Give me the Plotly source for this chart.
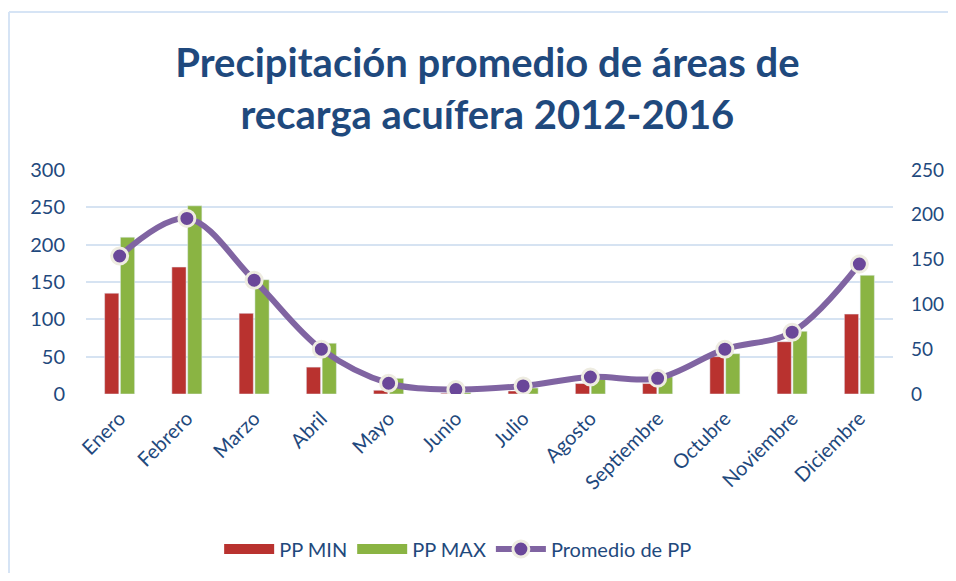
import plotly.graph_objects as go

meses = ['Enero', 'Febrero', 'Marzo', 'Abril', 'Mayo', 'Junio', 'Julio',
         'Agosto', 'Septiembre', 'Octubre', 'Noviembre', 'Diciembre']
pp_min = [135, 170, 108, 36, 5, 1, 4, 14, 14, 50, 70, 107]
pp_max = [210, 252, 153, 68, 21, 2, 8, 20, 23, 54, 84, 159]
promedio = [154, 196, 127, 50, 12, 5, 9, 19, 17.5, 50, 69, 145]

AZUL = '#1F497D'
FUENTE = 'Lato'
ROJO = '#B9322F'
VERDE = '#8AB443'

fig = go.Figure()

fig.add_trace(go.Bar(
    x=meses, y=pp_min, name='PP MIN', showlegend=False,
    marker=dict(color=ROJO),
))
fig.add_trace(go.Bar(
    x=meses, y=pp_max, name='PP MAX', showlegend=False,
    marker=dict(color=VERDE),
))
fig.add_trace(go.Scatter(
    x=meses, y=promedio, name='Promedio de PP', yaxis='y2',
    mode='lines+markers', legendrank=3,
    line=dict(color='#8064A2', width=6, shape='spline', smoothing=1.0),
    marker=dict(size=16, color='#6A4799',
                line=dict(color='#EEECE1', width=3)),
))

# legend-only entries so the bar swatches look like wide blocks
for nombre, color, rank in [('PP MIN', ROJO, 1), ('PP MAX', VERDE, 2)]:
    fig.add_trace(go.Scatter(
        x=[None], y=[None], name=nombre, mode='lines', legendrank=rank,
        line=dict(color=color, width=14),
    ))

# the page body adds an 8px margin on every side, so keep the figure
# small enough that no scrollbar shows up
fig.update_layout(
    width=940, height=565,
    paper_bgcolor='white', plot_bgcolor='white',
    font=dict(family=FUENTE, color=AZUL, size=20),
    title=dict(
        text='<b>Precipitación promedio de áreas de<br>recarga acuífera 2012-2016</b>',
        x=0.51, xanchor='center', y=0.878, yanchor='top',
        font=dict(size=40, color=AZUL, family=FUENTE),
    ),
    margin=dict(l=78, r=55, t=162, b=179),
    barmode='group', bargap=0.53, bargroupgap=0.1,
    showlegend=True,
    legend=dict(
        orientation='h', x=0.165, xanchor='left',
        yref='container', y=0.0425, yanchor='middle',
        font=dict(size=20, color=AZUL), itemwidth=50,
    ),
    xaxis=dict(
        range=[-0.5, len(meses) - 0.5],
        tickangle=-45, showgrid=False, ticks='', showline=False,
        tickfont=dict(size=20, color=AZUL), ticklabelstandoff=8,
        automargin=False,
    ),
    yaxis=dict(
        range=[0, 300], dtick=50, showgrid=True, gridcolor='#D6E3F2',
        gridwidth=2, zeroline=False, ticks='', ticklabelstandoff=20,
        tickfont=dict(size=20, color=AZUL), automargin=False,
    ),
    yaxis2=dict(
        range=[0, 250], dtick=50, overlaying='y', side='right',
        showgrid=False, zeroline=False, ticks='', ticklabelstandoff=17,
        tickfont=dict(size=19, color=AZUL), automargin=False,
    ),
    shapes=[
        dict(type='line', xref='paper', yref='paper', layer='below',
             x0=-0.0954, x1=1.2, y0=1.705, y1=1.705,
             line=dict(color='#D6E4F5', width=2)),
        dict(type='line', xref='paper', yref='paper', layer='below',
             x0=-0.0954, x1=-0.0954, y0=-1.0, y1=1.705,
             line=dict(color='#D6E4F5', width=2)),
    ],
)

fig.write_html('out.html')
